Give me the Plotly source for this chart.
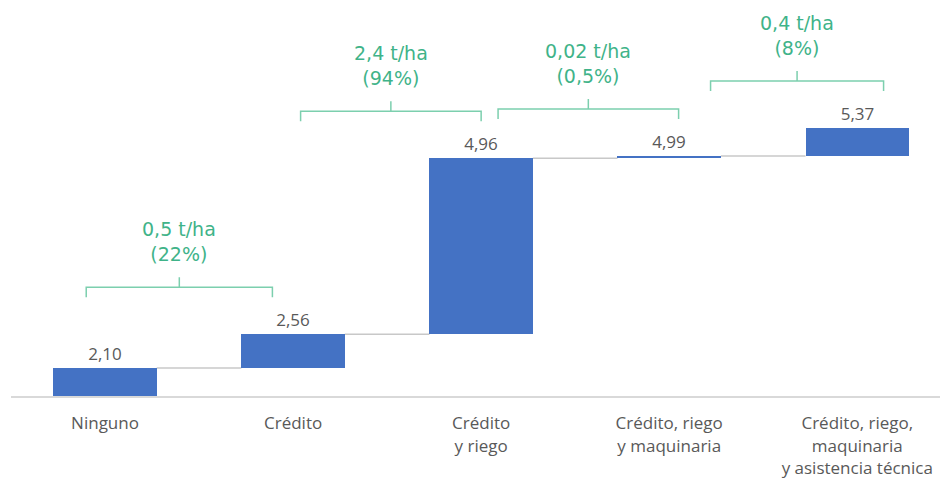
import plotly.graph_objects as go

# Rendimiento (t/ha) según servicios recibidos
categories = [
    "Ninguno",
    "Crédito",
    "Crédito<br>y riego",
    "Crédito, riego<br>y maquinaria",
    "Crédito, riego,<br>maquinaria<br>y asistencia técnica",
]
yields = [2.10, 2.56, 4.96, 4.99, 5.37]

# Ganancia entre niveles consecutivos
gain_tonnes = ["0,5 t/ha", "2,4 t/ha", "0,02 t/ha", "0,4 t/ha"]
gain_pct = ["(22%)", "(94%)", "(0,5%)", "(8%)"]

BAR_COLOR = "#4472c4"
LABEL_GRAY = "#595959"
GREEN_TEXT = "#3fb389"
GREEN_LINE = "#7ccfae"
CONNECTOR = "#c8c8c8"

W, H = 940, 478
M_L, M_R, M_T, M_B = 11, 0, 0, 82
plot_h = H - M_T - M_B

y_lo, y_hi = 1.72, 7.115
units_per_px = (y_hi - y_lo) / plot_h
bar_w = 0.55

x = list(range(len(categories)))
bases = [y_lo] + yields[:-1]
heights = [v - b for v, b in zip(yields, bases)]
labels = [f"{v:.2f}".replace(".", ",") for v in yields]

fig = go.Figure()
fig.add_trace(go.Bar(
    x=x, y=heights, base=bases, width=bar_w,
    marker=dict(color=BAR_COLOR, line=dict(width=0)),
    text=labels, textposition="outside",
    textfont=dict(family="Open Sans", size=17, color=LABEL_GRAY),
    cliponaxis=False, hoverinfo="skip",
))

shapes = []
# step connectors between consecutive bars
for i in range(len(yields) - 1):
    shapes.append(dict(
        type="line", xref="x", yref="y",
        x0=x[i] + bar_w / 2, x1=x[i + 1] - bar_w / 2,
        y0=yields[i], y1=yields[i],
        line=dict(color=CONNECTOR, width=1.5), layer="below",
    ))

# brackets with gain annotations
bracket_span = [(-0.1, 0.89), (1.04, 2.0), (2.09, 3.05), (3.22, 4.14)]
annotations = []
tick = 10 * units_per_px
for i, (xa, xb) in enumerate(bracket_span):
    yb = max(yields[i], yields[i + 1]) + 0.64
    xc = (xa + xb) / 2
    path = (f"M {xa},{yb - tick} L {xa},{yb} L {xb},{yb} L {xb},{yb - tick} "
            f"M {xc},{yb} L {xc},{yb + tick}")
    shapes.append(dict(
        type="path", xref="x", yref="y", path=path,
        line=dict(color=GREEN_LINE, width=1.5),
    ))
    annotations.append(dict(
        x=xc, y=yb, xref="x", yref="y",
        text=f"{gain_tonnes[i]}<br>{gain_pct[i]}",
        showarrow=False, yanchor="bottom", yshift=20,
        font=dict(family="DejaVu Sans", size=19, color=GREEN_TEXT),
    ))

fig.update_layout(
    width=W, height=H,
    margin=dict(l=M_L, r=M_R, t=M_T, b=M_B),
    paper_bgcolor="white", plot_bgcolor="white",
    showlegend=False, bargap=0,
    shapes=shapes, annotations=annotations,
    xaxis=dict(
        range=[-0.5, 4.44], tickvals=x, ticktext=categories,
        showgrid=False, zeroline=False,
        showline=True, linecolor="#d9d9d9", linewidth=2,
        ticks="outside", ticklen=11, tickcolor="rgba(0,0,0,0)",
        tickfont=dict(family="Open Sans", size=17, color=LABEL_GRAY),
    ),
    yaxis=dict(
        range=[y_lo, y_hi], showgrid=False, zeroline=False,
        showticklabels=False, showline=False,
    ),
)

fig.write_html("out.html")
